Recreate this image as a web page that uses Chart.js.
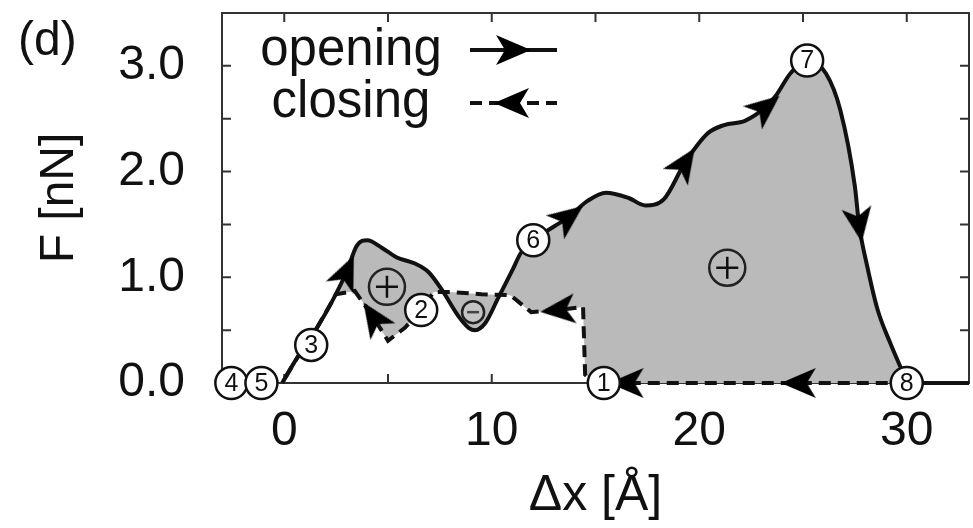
<!DOCTYPE html>
<html>
<head>
<meta charset="utf-8">
<script src="https://cdn.jsdelivr.net/npm/chart.js@4.4.1/dist/chart.umd.min.js"></script>
<style>
  html, body { margin: 0; padding: 0; background: #fff; }
  #wrap { width: 973px; height: 528px; position: relative; }
</style>
</head>
<body>
<div id="wrap"><canvas id="chart"></canvas></div>
<script>
const FONT = '"Liberation Sans", Arial, Helvetica, sans-serif';

// opening path (solid), in order of travel
const openX = [-0.1, 0.5, 1.6, 2.3, 3.0, 3.5, 4.0, 4.7, 5.4, 6.3, 6.95, 7.6, 8.4, 8.9, 9.2, 9.7, 10.3, 11.0, 11.4, 12.0,
  13.0, 13.7, 14.6, 15.5, 16.6, 17.4, 18.3, 19.3, 20.4, 21.2, 22.2, 23.2, 23.7, 24.4, 25.2, 26.1, 26.8, 27.5, 27.7,
  28.1, 28.6, 29.2, 29.7, 30.0, 30.4, 33.0];
const openY = [0, 0.2, 0.53, 0.77, 1.05, 1.3, 1.35, 1.28, 1.19, 1.13, 1.05, 0.88, 0.63, 0.52, 0.5, 0.57, 0.8, 1.07, 1.23, 1.35,
  1.48, 1.57, 1.72, 1.8, 1.75, 1.68, 1.74, 2.08, 2.36, 2.44, 2.48, 2.61, 2.72, 2.93, 3.05, 2.93, 2.58, 1.86, 1.5,
  1.1, 0.69, 0.38, 0.15, 0.02, 0, 0];

// closing path (dashed), in order of travel
const closeX = [30.0, 24.8, 16.5, 15.0, 14.5, 14.4, 13.2, 11.9, 10.9, 9.5, 8.0, 7.2, 6.6, 5.8, 5.0, 4.3, 3.4, 2.5, 2.3, 1.6, 0.5, -0.1];
const closeY = [0, 0, 0, 0, 0.08, 0.72, 0.69, 0.67, 0.83, 0.84, 0.86, 0.86, 0.69, 0.52, 0.40, 0.62, 0.87, 0.84, 0.77, 0.53, 0.2, 0];

// arrowheads sit on these points of each path
const openArrowX = [3.0, 13.7, 19.3, 23.2, 27.7];
const closeArrowX = [24.8, 16.5, 13.2, 4.3];

// numbered states
const stateX = [15.4, 6.6, 1.3, -2.55, -1.1, 12.0, 25.2, 30.0];
const stateY = [0, 0.69, 0.36, 0, 0, 1.35, 3.05, 0];
const stateLabels = ['1', '2', '3', '4', '5', '6', '7', '8'];

// sign of the enclosed work
const signX = [4.95, 21.35, 9.1];
const signY = [0.91, 1.09, 0.67];
const signs = ['+', '+', '-'];

const xTicks = [0, 10, 20, 30];
const xMinor = [0, 5, 10, 15, 20, 25, 30];
const yTicks = [0, 1, 2, 3];
const yMinor = [0, 0.5, 1, 1.5, 2, 2.5, 3, 3.5];

const pts = (xs, ys) => xs.map((x, i) => ({ x, y: ys[i] }));

function makeArrow() {
  const c = document.createElement('canvas');
  c.width = 40; c.height = 40;
  const g = c.getContext('2d');
  g.fillStyle = '#000';
  g.beginPath();
  g.moveTo(38, 20); g.lineTo(3, 5); g.lineTo(12, 20); g.lineTo(3, 35);
  g.closePath();
  g.fill();
  return c;
}
const arrowImg = makeArrow();

function pathAngle(chart, xs, ys, i) {
  if (i === undefined) return 0;
  const sx = chart.scales.x, sy = chart.scales.y;
  const a = Math.max(i - 1, 0), b = Math.min(i + 1, xs.length - 1);
  const dx = sx.getPixelForValue(xs[b]) - sx.getPixelForValue(xs[a]);
  const dy = sy.getPixelForValue(ys[b]) - sy.getPixelForValue(ys[a]);
  return Math.atan2(dy, dx) * 180 / Math.PI;
}

function arrowSet(xs, ys, at) {
  const idx = at.map(v => xs.indexOf(v));
  return {
    data: idx.map(i => ({ x: xs[i], y: ys[i] })),
    showLine: false,
    pointStyle: arrowImg,
    pointRadius: 12,
    pointRotation: ctx => pathAngle(ctx.chart, xs, ys, idx[ctx.dataIndex]),
    clip: false,
  };
}

// grey area enclosed by the cycle
const lastOpen = openX.indexOf(30.0);
const fillX = openX.slice(0, lastOpen).concat(closeX);
const fillY = openY.slice(0, lastOpen).concat(closeY);

const frame = {
  id: 'frame',
  beforeDatasetsDraw(chart) {
    const { ctx, chartArea: a, scales: { x, y } } = chart;
    ctx.save();
    ctx.strokeStyle = '#333';
    ctx.lineWidth = 2;
    ctx.strokeRect(a.left, a.top, a.right - a.left, a.bottom - a.top);
    ctx.beginPath();
    xMinor.forEach(v => {
      const px = x.getPixelForValue(v);
      ctx.moveTo(px, a.bottom); ctx.lineTo(px, a.bottom - 9);
      ctx.moveTo(px, a.top); ctx.lineTo(px, a.top + 9);
    });
    yMinor.forEach(v => {
      const py = y.getPixelForValue(v);
      ctx.moveTo(a.left, py); ctx.lineTo(a.left + 9, py);
      ctx.moveTo(a.right, py); ctx.lineTo(a.right - 9, py);
    });
    ctx.stroke();
    ctx.restore();
  },
};

const annotations = {
  id: 'annotations',
  afterDatasetsDraw(chart) {
    const { ctx } = chart;
    ctx.save();
    // state numbers inside the white circles
    const meta = chart.getDatasetMeta(0);
    ctx.fillStyle = '#111';
    ctx.font = `25px ${FONT}`;
    ctx.textAlign = 'center';
    ctx.textBaseline = 'middle';
    meta.data.forEach((el, i) => ctx.fillText(stateLabels[i], el.x, el.y + 1));

    // panel letter
    ctx.textAlign = 'left';
    ctx.font = `48px ${FONT}`;
    ctx.fillText('(d)', 18, 42);

    // legend
    ctx.font = `51px ${FONT}`;
    ctx.textAlign = 'center';
    ctx.textBaseline = 'alphabetic';
    ctx.fillText('opening', 351, 65);
    ctx.fillText('closing', 351, 117);

    ctx.strokeStyle = '#111';
    ctx.lineWidth = 4;
    ctx.beginPath();
    ctx.moveTo(470, 50); ctx.lineTo(557, 50);
    ctx.stroke();
    ctx.setLineDash([12, 7]);
    ctx.beginPath();
    ctx.moveTo(470, 103); ctx.lineTo(557, 103);
    ctx.stroke();
    ctx.setLineDash([]);
    ctx.drawImage(arrowImg, 513 - 20, 50 - 20);
    ctx.translate(512, 103);
    ctx.rotate(Math.PI);
    ctx.drawImage(arrowImg, -20, -20);
    ctx.restore();
  },
};

new Chart(document.getElementById('chart'), {
  type: 'line',
  data: {
    datasets: [
      {
        data: pts(stateX, stateY),
        showLine: false,
        pointStyle: 'circle',
        pointRadius: 16,
        pointBackgroundColor: '#fff',
        pointBorderColor: '#111',
        pointBorderWidth: 2.5,
        clip: false,
      },
      {
        data: pts(signX, signY),
        showLine: false,
        pointStyle: signs.map(s => (s === '+' ? 'cross' : 'line')),
        pointRadius: signs.map(s => (s === '+' ? 11 : 6)),
        pointBorderColor: signs.map(s => (s === '+' ? '#111' : '#444')),
        pointBorderWidth: 2.5,
        clip: false,
      },
      {
        data: pts(signX, signY),
        showLine: false,
        pointStyle: 'circle',
        pointRadius: signs.map(s => (s === '+' ? 18 : 11)),
        pointBackgroundColor: signs.map(s => (s === '+' ? 'rgba(0,0,0,0)' : '#c4c4c4')),
        pointBorderColor: '#222',
        pointBorderWidth: 2.5,
        clip: false,
      },
      arrowSet(openX, openY, openArrowX),
      arrowSet(closeX, closeY, closeArrowX),
      {
        data: pts(openX, openY),
        borderColor: '#111',
        borderWidth: 4,
        cubicInterpolationMode: 'monotone',
        pointRadius: 0,
        fill: false,
        clip: false,
      },
      {
        data: pts(closeX, closeY),
        borderColor: '#111',
        borderWidth: 4,
        borderDash: [12, 7],
        tension: 0,
        pointRadius: 0,
        fill: false,
        clip: false,
      },
      {
        data: pts(fillX, fillY),
        borderWidth: 0,
        borderColor: 'rgba(0,0,0,0)',
        backgroundColor: '#bababa',
        tension: 0,
        pointRadius: 0,
        fill: 'shape',
      },
    ],
  },
  options: {
    responsive: true,
    maintainAspectRatio: false,
    animation: false,
    events: [],
    // markers are unclipped, so no automatic room is kept for them around the plot box
    layout: { autoPadding: false, padding: { top: 13, right: 4, left: 0, bottom: 0 } },
    plugins: { legend: { display: false }, tooltip: { enabled: false } },
    scales: {
      x: {
        type: 'linear',
        min: -3,
        max: 33,
        afterBuildTicks: s => { s.ticks = xTicks.map(v => ({ value: v })); },
        afterFit: s => { s.height = 145; s.paddingLeft = 0; s.paddingRight = 0; },
        grid: { display: false, drawTicks: false },
        border: { display: false },
        ticks: { color: '#111', font: { family: FONT, size: 48 }, padding: 20, maxRotation: 0, autoSkip: false },
        title: { display: true, text: 'Δx [Å]', color: '#111', font: { family: FONT, size: 50 }, padding: { top: 0, bottom: 2 } },
      },
      y: {
        min: 0,
        max: 3.5,
        afterBuildTicks: s => { s.ticks = yTicks.map(v => ({ value: v })); },
        afterFit: s => { s.width = 222; s.paddingTop = 0; s.paddingBottom = 0; },
        grid: { display: false, drawTicks: false },
        border: { display: false },
        ticks: { color: '#111', font: { family: FONT, size: 48 }, padding: 37, callback: v => v.toFixed(1) },
        title: { display: true, text: 'F [nN]', color: '#111', font: { family: FONT, size: 48 }, padding: { top: 31, bottom: 0 } },
      },
    },
  },
  plugins: [frame, annotations],
});
</script>
</body>
</html>
